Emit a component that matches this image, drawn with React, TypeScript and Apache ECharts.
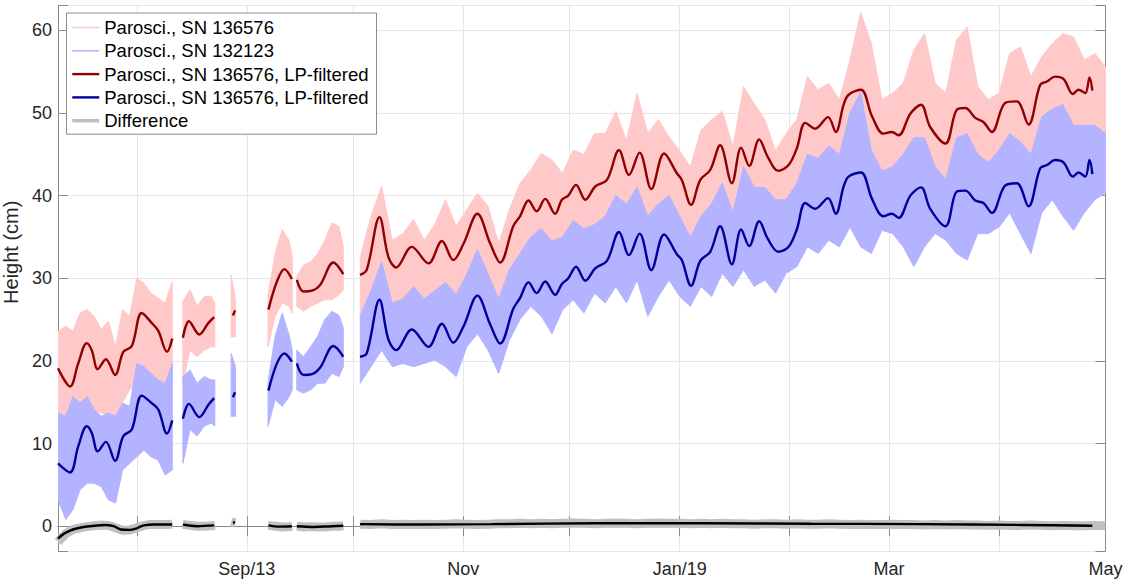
import React, { useEffect, useRef } from 'react';
import * as echarts from 'echarts';

const DAY_MS = 86400000;
const ORIGIN = Date.UTC(2018, 7, 1); // day 0 = 1 Aug 2018
const X_MIN_DAY = -22.2;
const X_MAX_DAY = 273; // 1 May 2019
const Y_MIN = -3;
const Y_MAX = 63;

const xTickDates = ['2018-09-01', '2018-11-01', '2019-01-01', '2019-03-01', '2019-05-01'];
const xTickLabels = ['Sep/13', 'Nov', 'Jan/19', 'Mar', 'May'];

const seriesNames = [
  'Parosci., SN 136576',
  'Parosci., SN 132123',
  'Parosci., SN 136576, LP-filtered',
  'Parosci., SN 136576, LP-filtered ',
  'Difference',
];

// ---- raw records: envelope (high / low) per sample day, null = data gap ----
const rawDays = [
  -22.2, -20, -18, -16, -14, -12, -10, -8, -6, -4, -2, 0, 2, 4, 6, 8, 10,
  11.5,
  13, 15, 17, 19, 21, 22,
  24,
  26.6, 27.8,
  32,
  37, 39, 41, 43, 43.8,
  44.4,
  45.1, 47, 49, 51, 53, 55, 57, 58.2,
  60,
  63, 66, 69, 72, 75, 78, 81, 84, 87, 90,
  93, 96, 99, 102, 105, 108, 111, 114, 117, 120,
  123, 126, 129, 132, 135, 138, 141, 144, 147, 150,
  153, 156, 159, 162, 165, 168, 171, 174, 177, 180,
  183, 186, 189, 192, 195, 198, 201, 204, 207, 210,
  213, 216, 219, 222, 225, 228, 231, 234, 237, 240,
  243, 246, 249, 252, 255, 258, 261, 264, 267, 270,
  273,
];
const pinkHi = [
  23.6, 24.2, 23.6, 25.8, 26.2, 25.4, 23.8, 24.8, 21.7, 26.2, 25.4, 30.0, 29.4, 28.2, 27.6, 27.0, 29.6,
  null,
  27.2, 28.6, 26.6, 27.8, 27.8, 27.0,
  null,
  30.4, 27.4,
  null,
  28.0, 33.0, 35.9, 34.5, 32.5,
  null,
  30.2, 31.6, 32.0, 33.0, 34.6, 36.7, 36.3, 33.8,
  null,
  32.6, 37.5, 41.1, 34.6, 35.4, 37.1, 34.6, 36.5, 39.5, 36.3,
  38.3, 40.3, 38.7, 34.2, 38.3, 41.5, 43.1, 45.1, 44.3, 42.7,
  45.5, 45.0, 47.5, 47.5, 50.2, 46.7, 52.4, 47.5, 49.2, 47.1,
  45.4, 43.5, 47.9, 49.2, 50.2, 45.9, 53.2, 51.1, 49.2, 45.4,
  47.5, 49.2, 54.4, 52.8, 53.6, 51.6, 56.4, 62.2, 58.4, 51.6,
  52.4, 53.6, 57.6, 59.6, 53.6, 52.4, 58.8, 60.4, 53.2, 51.6,
  52.4, 57.2, 58.0, 54.4, 56.8, 58.4, 59.6, 59.2, 56.4, 57.2,
  55.6,
];
const pinkLo = [
  12.5, 12.0, 11.3, 13.0, 14.9, 14.0, 13.7, 13.5, 13.3, 15.0, 16.5, 17.5, 17.3, 17.0, 16.5, 15.5, 17.7,
  null,
  17.3, 21.3, 20.5, 21.3, 21.7, 21.7,
  null,
  22.9, 22.9,
  null,
  21.7, 25.4, 27.0, 26.6, 25.8,
  null,
  26.6, 26.0, 26.6, 27.0, 27.4, 27.4, 28.0, 28.6,
  null,
  25.0, 27.0, 29.5, 26.5, 26.0, 27.5, 26.0, 26.5, 27.5, 26.5,
  28.5, 31.0, 28.5, 26.0, 29.0, 31.0, 33.0, 32.5, 32.0, 32.5,
  34.5, 33.5, 35.0, 35.5, 38.0, 37.0, 38.5, 35.5, 37.0, 37.5,
  36.0, 33.0, 35.5, 37.0, 39.0, 36.0, 39.0, 39.0, 39.0, 37.0,
  37.5, 39.0, 42.5, 42.0, 43.0, 43.0, 46.0, 46.5, 43.5, 41.0,
  41.5, 42.0, 44.5, 44.0, 41.0, 40.0, 44.0, 44.0, 43.0, 42.0,
  43.0, 45.0, 44.0, 43.0, 47.0, 48.0, 48.0, 46.0, 46.5, 47.0,
  47.0,
];
const blueHi = [
  13.7, 13.3, 15.7, 14.9, 15.7, 14.1, 13.3, 13.7, 13.3, 14.9, 14.5, 19.7, 19.3, 18.5, 17.7, 17.3, 19.7,
  null,
  18.1, 18.9, 17.3, 18.1, 17.7, 17.7,
  null,
  20.9, 19.3,
  null,
  17.5, 23.0, 25.8, 23.0, 21.3,
  null,
  21.3, 20.5, 21.7, 23.0, 25.0, 26.0, 25.5, 24.0,
  null,
  25.5, 28.5, 32.0, 27.0, 27.5, 29.0, 27.5, 28.5, 29.5, 28.0,
  30.5, 33.5, 30.5, 27.5, 31.0, 33.0, 35.0, 36.0, 34.5, 35.0,
  37.0, 36.0, 36.5, 37.5, 40.0, 39.0, 41.0, 37.5, 39.0, 40.0,
  37.5, 35.0, 37.5, 39.0, 41.5, 38.0, 43.5, 41.0, 41.0, 39.5,
  39.5, 41.5, 45.0, 44.5, 46.0, 45.0, 50.0, 52.5, 45.5, 43.0,
  43.5, 45.0, 47.0, 47.0, 43.5, 42.0, 47.0, 47.5, 45.0, 44.0,
  45.5, 47.5, 46.5, 45.0, 49.5, 50.5, 51.0, 48.5, 48.5, 48.5,
  47.5,
];
const blueLo = [
  3.2, 0.8, 2.0, 4.4, 5.2, 5.2, 4.8, 3.2, 2.8, 6.8, 7.6, 8.4, 9.2, 8.4, 8.0, 6.2, 6.8,
  null,
  7.6, 11.7, 10.9, 12.1, 12.5, 12.1,
  null,
  13.3, 13.3,
  null,
  12.1, 15.3, 14.5, 15.7, 16.5,
  null,
  16.5, 16.1, 16.5, 17.3, 17.3, 18.5, 18.1, 19.3,
  null,
  17.3, 19.3, 21.3, 19.3, 19.7, 19.3, 19.7, 20.1, 19.3, 18.1,
  21.7, 23.3, 21.3, 18.5, 22.5, 25.0, 26.6, 25.4, 23.3, 26.2,
  27.4, 25.8, 28.2, 27.0, 29.0, 27.0, 29.8, 25.4, 27.8, 29.8,
  27.8, 26.6, 29.0, 27.8, 30.6, 29.0, 31.0, 29.0, 29.8, 28.2,
  30.6, 31.4, 33.8, 33.0, 34.6, 33.8, 36.2, 33.8, 33.0, 35.8,
  35.4, 33.8, 31.4, 33.8, 35.4, 34.6, 33.0, 32.2, 35.4, 35.4,
  36.2, 37.9, 35.4, 33.0, 37.9, 39.5, 37.5, 35.8, 37.9, 39.5,
  40.3,
];
const diffRaw = [
  -1.9, -0.9, -0.4, -0.2, -0.05, 0.05, 0.15, 0.1, -0.2, -0.5, -0.45, -0.2, 0.1, 0.2, 0.2, 0.2, 0.25,
  null,
  0.2, 0.1, 0.0, 0.0, 0.05, 0.1,
  null,
  0.5, 0.4,
  null,
  0.1, 0.0, -0.1, -0.05, 0.0,
  null,
  0.0, -0.1, -0.05, -0.1, -0.1, 0.0, 0.0, 0.05,
  null,
  0.25, 0.2, 0.3, 0.2, 0.25, 0.2, 0.25, 0.2, 0.25, 0.3,
  0.25, 0.2, 0.25, 0.3, 0.3, 0.35, 0.3, 0.35, 0.3, 0.35,
  0.4, 0.35, 0.3, 0.35, 0.4, 0.35, 0.3, 0.35, 0.4, 0.35,
  0.35, 0.3, 0.35, 0.3, 0.35, 0.3, 0.3, 0.25, 0.3, 0.3,
  0.25, 0.3, 0.25, 0.25, 0.3, 0.25, 0.2, 0.25, 0.2, 0.2,
  0.25, 0.2, 0.2, 0.15, 0.2, 0.15, 0.2, 0.15, 0.15, 0.1,
  0.15, 0.1, 0.1, 0.15, 0.1, 0.05, 0.1, 0.05, 0.05, 0.1,
  0.05,
];

// ---- low-pass filtered records ----
const lpDays = [
  -22.2, -18.8, -16.5, -14.1, -12.7, -11.0, -8.7, -6.1, -3.8, -1.4, 1.4, 4.2, 6.1, 8.5, 10.0,
  11.5,
  13.0, 14.7, 17.6, 20.2, 21.8,
  24,
  27.1, 27.7,
  32,
  37.1, 39.5, 41.6, 43.7,
  44.4,
  45.1, 47.0, 49.4, 51.7, 55.4, 58.2,
  60,
  62.9, 64.8, 68.4, 70.9, 73.1, 77.5, 82.2, 86.0, 89.2, 92.1,
  96.0, 99.6, 102.4, 106.1, 108.0, 110.4, 112.7, 115.1, 117.9, 119.8,
  121.6, 123.8, 126.4, 129.2, 132.5, 135.9, 138.7, 141.7, 145.0, 148.6,
  152.2, 153.6, 156.2, 158.8, 161.6, 164.4, 167.7, 170.3, 172.6, 175.4,
  177.8, 180.8, 183.7, 186.0, 188.4, 191.2, 194.8, 197.0, 199.2, 200.6,
  204.1, 207.2, 210.4, 212.8, 214.7, 218.0, 221.0, 223.6, 227.9, 231.1,
  233.5, 236.3, 238.6, 241.0, 244.7, 248.0, 251.3, 254.6, 256.5, 258.8,
  261.2, 263.8, 265.4, 267.3, 268.5, 269.3,
];
const redLP = [
  19.1, 16.9, 19.7, 22.15, 21.3, 19.0, 20.2, 18.3, 21.1, 21.8, 25.8, 24.6, 23.6, 21.1, 22.7,
  null,
  22.8, 24.8, 23.2, 24.6, 25.3,
  null,
  25.5, 26.1,
  null,
  26.2, 29.6, 31.1, 29.9,
  null,
  29.8, 28.4, 28.5, 29.2, 31.9, 30.5,
  null,
  30.4, 31.0, 37.4, 32.6, 31.3, 33.8, 31.8, 34.5, 32.2, 34.2,
  37.8, 34.2, 31.9, 36.3, 37.5, 39.4, 38.1, 39.6, 37.8, 39.5,
  40.0, 41.3, 39.5, 41.1, 41.9, 45.5, 42.5, 45.2, 40.8, 45.1,
  42.7, 41.9, 38.9, 41.9, 43.1, 46.1, 41.5, 45.8, 43.6, 46.8,
  44.7, 43.0, 43.7, 45.7, 48.8, 48.1, 49.5, 47.7, 51.0, 52.2,
  52.8, 49.6, 47.5, 47.7, 47.3, 49.9, 51.0, 48.3, 46.3, 50.4,
  50.6, 49.4, 48.9, 47.7, 51.2, 51.4, 48.6, 53.4, 53.8, 54.4,
  54.1, 52.3, 52.8, 52.4, 54.3, 52.7,
];
const blueLP = [
  7.6, 6.5, 9.65, 12.1, 11.3, 9.05, 10.2, 7.9, 10.9, 11.7, 15.8, 14.9, 14.1, 11.2, 12.8,
  null,
  13.0, 14.8, 13.2, 14.7, 15.5,
  null,
  15.6, 16.2,
  null,
  16.4, 19.7, 20.9, 19.9,
  null,
  19.7, 18.3, 18.4, 19.2, 21.8, 20.5,
  null,
  20.5, 20.9, 27.4, 22.6, 21.3, 23.8, 21.7, 24.5, 22.2, 24.2,
  27.9, 24.4, 22.1, 26.3, 27.6, 29.5, 28.2, 29.6, 28.0, 29.3,
  30.0, 31.4, 29.7, 31.2, 32.1, 35.6, 32.8, 35.4, 31.0, 35.3,
  32.9, 32.2, 29.1, 32.1, 33.2, 36.3, 31.7, 35.9, 33.9, 36.9,
  34.8, 33.2, 33.8, 35.9, 39.1, 38.4, 39.7, 37.8, 41.1, 42.3,
  42.8, 39.6, 37.5, 37.8, 37.3, 40.0, 41.0, 38.4, 36.3, 40.5,
  40.6, 39.4, 39.1, 37.9, 41.2, 41.5, 38.7, 43.3, 43.7, 44.3,
  44.0, 42.3, 42.8, 42.3, 44.3, 42.6,
];
const diffDays = [
  -22.2, -20.5, -18, -15, -12, -9, -6.5, -4.5, -2, 0, 2, 5, 10,
  11.5,
  13, 17, 21.8,
  24,
  27.1, 27.7,
  32,
  37.1, 40, 43.7,
  44.4,
  45.1, 50, 55, 58.2,
  60,
  62.9, 80, 100, 130, 160, 190, 220, 250, 269.3,
];
const diffLP = [
  -1.5, -0.9, -0.4, -0.1, 0.05, 0.15, 0.0, -0.4, -0.45, -0.25, 0.1, 0.2, 0.2,
  null,
  0.2, 0.0, 0.1,
  null,
  0.45, 0.45,
  null,
  0.1, -0.05, 0.0,
  null,
  0.0, -0.1, 0.0, 0.05,
  null,
  0.25, 0.2, 0.25, 0.35, 0.35, 0.3, 0.25, 0.15, 0.05,
];

const FONT = "'Liberation Sans', Helvetica, Arial, sans-serif";
const AXIS_COLOR = '#8a8a8a';
const GRID_COLOR = '#e6e6e6';
const PINK = '#ffc9c9';
const LIGHT_BLUE = '#b3b3ff';
const DARK_RED = '#900000';
const DARK_BLUE = '#00009c';
const GRAY = '#c0c0c0';

const toT = (d: number) => ORIGIN + d * DAY_MS;
const tickTimes = xTickDates.map((s) => Date.parse(s + 'T00:00:00Z'));

function toLine(days: number[], vals: (number | null)[]) {
  return days.map((d, i) => [toT(d), vals[i] === null ? null : vals[i]]);
}

function bandSegments(hi: (number | null)[], lo: (number | null)[]) {
  const segs: number[][][] = [];
  let cur: number[][] = [];
  for (let i = 0; i < rawDays.length; i++) {
    if (hi[i] === null || lo[i] === null) {
      if (cur.length) segs.push(cur);
      cur = [];
      continue;
    }
    cur.push([rawDays[i], hi[i] as number, lo[i] as number]);
  }
  if (cur.length) segs.push(cur);
  return segs;
}

function bandSeries(id: string, hi: (number | null)[], lo: (number | null)[], color: string, z: number) {
  const segs = bandSegments(hi, lo);
  return {
    type: 'custom',
    id,
    name: id,
    silent: true,
    clip: true,
    z,
    data: segs.map((s) => [toT(s[0][0]), s[0][1]]),
    encode: { x: 0, y: 1 },
    renderItem: (params: any, api: any) => {
      const seg = segs[params.dataIndex];
      const pts: number[][] = [];
      for (const p of seg) pts.push(api.coord([toT(p[0]), p[1]]));
      for (let k = seg.length - 1; k >= 0; k--) pts.push(api.coord([toT(seg[k][0]), seg[k][2]]));
      return {
        type: 'polygon',
        shape: { points: pts },
        style: { fill: color, stroke: color, lineWidth: 1 },
      };
    },
  };
}

export default function App() {
  const ref = useRef<HTMLDivElement>(null);
  useEffect(() => {
    if (!ref.current) return;
    const chart = echarts.init(ref.current, undefined, { renderer: 'svg' });
    const xCommon = {
      type: 'time',
      min: toT(X_MIN_DAY),
      max: toT(X_MAX_DAY),
      minInterval: 28 * DAY_MS,
      maxInterval: 31 * DAY_MS,
      axisLine: { show: true, lineStyle: { color: AXIS_COLOR, width: 1 } },
      axisTick: { show: true, inside: true, length: 10, lineStyle: { color: AXIS_COLOR } },
    };
    const yCommon = {
      type: 'value',
      min: Y_MIN,
      max: Y_MAX,
      splitNumber: 6,
      axisLine: { show: true, lineStyle: { color: AXIS_COLOR, width: 1 } },
      axisTick: { show: true, inside: true, length: 10, lineStyle: { color: AXIS_COLOR } },
    };
    const option: any = {
      animation: false,
      useUTC: true,
      backgroundColor: '#ffffff',
      textStyle: { fontFamily: FONT },
      grid: { left: 58, right: 22.5, top: 5.5, bottom: 30, containLabel: false, outerBoundsMode: 'none' },
      legend: {
        orient: 'vertical',
        left: 66.5,
        top: 13,
        itemWidth: 27,
        itemHeight: 14,
        itemGap: 4.3,
        padding: [5, 8, 4, 4],
        backgroundColor: '#ffffff',
        borderColor: '#8c8c8c',
        borderWidth: 1,
        borderRadius: 0,
        selectedMode: false,
        itemStyle: { opacity: 0 },
        textStyle: { fontSize: 18.5, color: '#000000', fontFamily: FONT },
        formatter: (n: string) => n.trim(),
        data: [
          { name: seriesNames[0], lineStyle: { width: 1.5, opacity: 1 } },
          { name: seriesNames[1], lineStyle: { width: 1.5, opacity: 1 } },
          { name: seriesNames[2], lineStyle: { width: 2.4, opacity: 1 } },
          { name: seriesNames[3], lineStyle: { width: 2.4, opacity: 1 } },
          { name: seriesNames[4], lineStyle: { width: 3.5, opacity: 1 } },
        ],
      },
      xAxis: [
        {
          ...xCommon,
          position: 'bottom',
          axisLabel: {
            show: true,
            fontSize: 18,
            color: '#262626',
            fontFamily: FONT,
            margin: 9,
            hideOverlap: false,
            formatter: (v: number) => {
              const i = tickTimes.indexOf(v);
              return i >= 0 ? xTickLabels[i] : '';
            },
          },
          splitLine: { show: true, lineStyle: { color: GRID_COLOR, width: 1 } },
        },
        {
          ...xCommon,
          position: 'top',
          axisLabel: { show: false },
          splitLine: { show: false },
        },
      ],
      yAxis: [
        {
          ...yCommon,
          position: 'left',
          name: 'Height (cm)',
          nameLocation: 'middle',
          nameGap: 30,
          nameTextStyle: { fontSize: 20, color: '#262626', fontFamily: FONT, padding: [0, 0, 0, 52] },
          axisLabel: {
            show: true,
            fontSize: 18,
            color: '#262626',
            fontFamily: FONT,
            margin: 6,
            formatter: (v: number) => (Math.abs(v % 10) < 1e-9 ? String(v) : ''),
          },
          splitLine: { show: true, lineStyle: { color: GRID_COLOR, width: 1 } },
        },
        {
          ...yCommon,
          position: 'right',
          axisLabel: { show: false },
          splitLine: { show: false },
        },
      ],
      series: [
        bandSeries('pinkBand', pinkHi, pinkLo, PINK, 2),
        bandSeries('blueBand', blueHi, blueLo, LIGHT_BLUE, 2),
        {
          type: 'line', name: seriesNames[0], data: [], symbol: 'none',
          lineStyle: { color: PINK, width: 1.5 }, itemStyle: { color: PINK },
        },
        {
          type: 'line', name: seriesNames[1], data: [], symbol: 'none',
          lineStyle: { color: LIGHT_BLUE, width: 1.5 }, itemStyle: { color: LIGHT_BLUE },
        },
        {
          type: 'line', name: seriesNames[2], data: toLine(lpDays, redLP), symbol: 'none',
          smooth: 0.35, connectNulls: false, z: 4,
          lineStyle: { color: DARK_RED, width: 2.4 }, itemStyle: { color: DARK_RED },
        },
        {
          type: 'line', name: seriesNames[3], data: toLine(lpDays, blueLP), symbol: 'none',
          smooth: 0.35, connectNulls: false, z: 4,
          lineStyle: { color: DARK_BLUE, width: 2.4 }, itemStyle: { color: DARK_BLUE },
        },
        {
          type: 'line', name: seriesNames[4], data: toLine(rawDays, diffRaw), symbol: 'none',
          connectNulls: false, z: 4,
          lineStyle: { color: GRAY, width: 9 }, itemStyle: { color: GRAY },
        },
        {
          type: 'line', name: 'Difference LP', data: toLine(diffDays, diffLP), symbol: 'none',
          smooth: 0.35, connectNulls: false, z: 5,
          lineStyle: { color: '#000000', width: 2.4 }, itemStyle: { color: '#000000' },
        },
      ],
    };
    chart.setOption(option);
    return () => chart.dispose();
  }, []);
  return (
    <div
      ref={ref}
      style={{ position: 'fixed', left: 0, top: 0, width: 1128, height: 581, background: '#fff' }}
    />
  );
}
